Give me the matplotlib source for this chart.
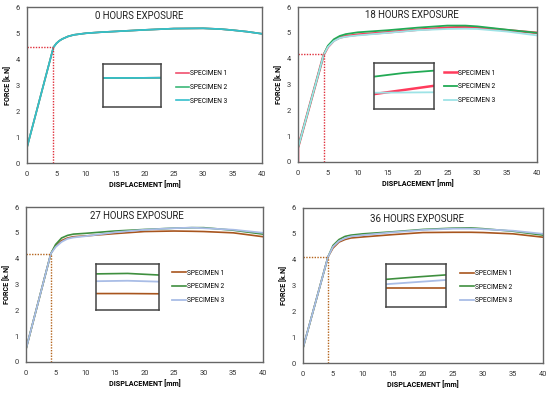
import matplotlib
matplotlib.use("Agg")
import matplotlib.pyplot as plt

plt.rcParams['font.family'] = ['Roboto', 'DejaVu Sans']

# ---------------- data ----------------
titles = ["0 HOURS EXPOSURE", "18 HOURS EXPOSURE", "27 HOURS EXPOSURE", "36 HOURS EXPOSURE"]
labels = ["SPECIMEN 1", "SPECIMEN 2", "SPECIMEN 3"]
x_ticks = [0, 5, 10, 15, 20, 25, 30, 35, 40]
y_ticks = [0, 1, 2, 3, 4, 5, 6]

# 0 hours (all three specimens coincide)
x_0h = [0, 0, 4.5, 5, 5.5, 6, 7, 8, 10, 12.5, 15, 20, 25, 30, 33, 35, 37.5, 40]
f_0h = [0, 0.6, 4.45, 4.6, 4.7, 4.77, 4.87, 4.93, 4.99, 5.03, 5.06, 5.12, 5.17, 5.18, 5.15, 5.11, 5.05, 4.97]
s1_0h = f_0h
s2_0h = f_0h
s3_0h = f_0h

# 18 hours
x_18h = [0, 0, 4.3, 5, 6, 7, 8, 10, 15, 20, 25, 28, 30, 35, 40]
s1_18h = [0, 0.55, 4.15, 4.45, 4.70, 4.82, 4.87, 4.93, 5.02, 5.12, 5.20, 5.23, 5.20, 5.10, 5.00]
s2_18h = [0, 0.55, 4.15, 4.50, 4.75, 4.88, 4.95, 5.02, 5.10, 5.20, 5.28, 5.28, 5.25, 5.12, 5.00]
s3_18h = [0, 0.55, 4.15, 4.45, 4.68, 4.80, 4.85, 4.90, 5.00, 5.10, 5.15, 5.16, 5.15, 5.05, 4.90]

# 27 hours
x_27h = [0, 0, 4.2, 5, 6, 7, 8, 10, 15, 20, 25, 28, 30, 35, 40]
s1_27h = [0, 0.5, 4.2, 4.50, 4.70, 4.80, 4.85, 4.88, 4.97, 5.05, 5.07, 5.06, 5.05, 5.00, 4.85]
s2_27h = [0, 0.5, 4.2, 4.55, 4.80, 4.90, 4.95, 4.98, 5.07, 5.13, 5.18, 5.20, 5.20, 5.10, 4.95]
s3_27h = [0, 0.5, 4.2, 4.45, 4.65, 4.77, 4.82, 4.87, 5.02, 5.12, 5.18, 5.20, 5.18, 5.12, 5.00]

# 36 hours
x_36h = [0, 0, 4.17, 5, 6, 7, 8, 10, 15, 20, 25, 28, 30, 35, 40]
s1_36h = [0, 0.58, 4.11, 4.45, 4.68, 4.78, 4.84, 4.88, 4.97, 5.05, 5.06, 5.06, 5.05, 5.00, 4.87]
s2_36h = [0, 0.58, 4.11, 4.55, 4.78, 4.90, 4.95, 5.00, 5.08, 5.17, 5.22, 5.23, 5.20, 5.10, 4.95]
s3_36h = [0, 0.58, 4.11, 4.50, 4.72, 4.83, 4.90, 4.95, 5.06, 5.15, 5.20, 5.20, 5.18, 5.12, 5.00]

# yield points (displacement, force)
yield_x = [4.5, 4.3, 4.2, 4.17]
yield_f = [4.45, 4.2, 4.2, 4.11]

# inset (magnified view) curves, normalized inset units
inset_x = [0, 0.5, 1]
inset_0h = [[0.68, 0.68, 0.685], [0.68, 0.68, 0.685], [0.68, 0.68, 0.685]]
inset_18h = [[0.33, 0.42, 0.51], [0.71, 0.79, 0.84], [0.36, 0.365, 0.37]]
inset_27h = [[0.35, 0.35, 0.345], [0.78, 0.79, 0.755], [0.62, 0.63, 0.61]]
inset_36h = [[0.43, 0.43, 0.43], [0.645, 0.70, 0.75], [0.53, 0.58, 0.63]]
# inset boxes in data coords: x0, y0, w, h
inset_boxes = [[12.9, 2.15, 9.9, 1.65], [12.7, 2.04, 10.0, 1.78],
               [11.8, 2.03, 10.7, 1.77], [13.8, 2.18, 10.0, 1.64]]

# ---------------- styling ----------------
colors = [
    ["#f0506e", "#3cb878", "#35bfcc"],
    ["#ff3b5c", "#22aa55", "#9ee3e6"],
    ["#a8551e", "#3f8f3f", "#a9bde6"],
    ["#a8551e", "#3f8f3f", "#a9bde6"],
]
lws = [[1.2, 1.2, 1.2], [1.8, 1.3, 1.3], [1.2, 1.2, 1.3], [1.2, 1.2, 1.3]]
yield_colors = ["#e0303c", "#e0303c", "#b5651d", "#b5651d"]

ax_pos = [
    [27 / 550, 1 - 163 / 393, 235 / 550, 156 / 393],
    [298 / 550, 1 - 162 / 393, 239 / 550, 155 / 393],
    [26 / 550, 1 - 362 / 393, 237 / 550, 155 / 393],
    [303 / 550, 1 - 363 / 393, 240 / 550, 155 / 393],
]
title_pos = [(0.477, 0.94), (0.477, 0.948), (0.468, 0.94), (0.475, 0.93)]
legend_anchor = [(0.632, 0.595), (0.61, 0.595), (0.617, 0.595), (0.655, 0.6)]

xs = [x_0h, x_18h, x_27h, x_36h]
series = [[s1_0h, s2_0h, s3_0h], [s1_18h, s2_18h, s3_18h],
          [s1_27h, s2_27h, s3_27h], [s1_36h, s2_36h, s3_36h]]
insets = [inset_0h, inset_18h, inset_27h, inset_36h]

fig = plt.figure(figsize=(5.5, 3.93), dpi=100)
fig.patch.set_facecolor("white")

for i in range(4):
    ax = fig.add_axes(ax_pos[i])
    for j in range(3):
        ax.plot(xs[i], series[i][j], color=colors[i][j], lw=lws[i][j], label=labels[j],
                solid_joinstyle="round")
    # yield guide lines
    ax.plot([0, yield_x[i]], [yield_f[i], yield_f[i]], ls=(0, (1, 1)), color=yield_colors[i], lw=1.0)
    ax.plot([yield_x[i], yield_x[i]], [0, yield_f[i]], ls=(0, (1, 1)), color=yield_colors[i], lw=1.0)

    ax.set_xlim(0, 40)
    ax.set_ylim(0, 6)
    ax.set_xticks(x_ticks)
    ax.set_yticks(y_ticks)
    ax.tick_params(length=0, labelsize=5.4, colors="#333333")
    ax.tick_params(axis="x", pad=5.5)
    ax.tick_params(axis="y", pad=5)
    for sp in ax.spines.values():
        sp.set_color("#666666")
        sp.set_linewidth(1.0)
    ax.set_xlabel("DISPLACEMENT [mm]", fontsize=5.2, fontweight="bold", labelpad=2.5)
    ax.set_ylabel("FORCE [k.N]", fontsize=5.2, fontweight="bold", labelpad=3)
    ax.text(title_pos[i][0], title_pos[i][1], titles[i], transform=ax.transAxes,
            ha="center", va="center", fontsize=6.9, color="#222222")

    # inset box
    b = inset_boxes[i]
    ins = ax.inset_axes(b, transform=ax.transData)
    for j in range(3):
        ins.plot(inset_x, insets[i][j], color=colors[i][j], lw=lws[i][j])
    ins.set_xlim(0, 1)
    ins.set_ylim(0, 1)
    ins.set_xticks([])
    ins.set_yticks([])
    for sp in ins.spines.values():
        sp.set_color("#444444")
        sp.set_linewidth(1.1)

    leg = ax.legend(loc="upper left", bbox_to_anchor=legend_anchor[i], frameon=False,
                    fontsize=4.8, handlelength=2.0, handletextpad=0.15, labelspacing=1.0,
                    borderpad=0, borderaxespad=0)

fig.savefig("out.png", dpi=100, facecolor="white")
